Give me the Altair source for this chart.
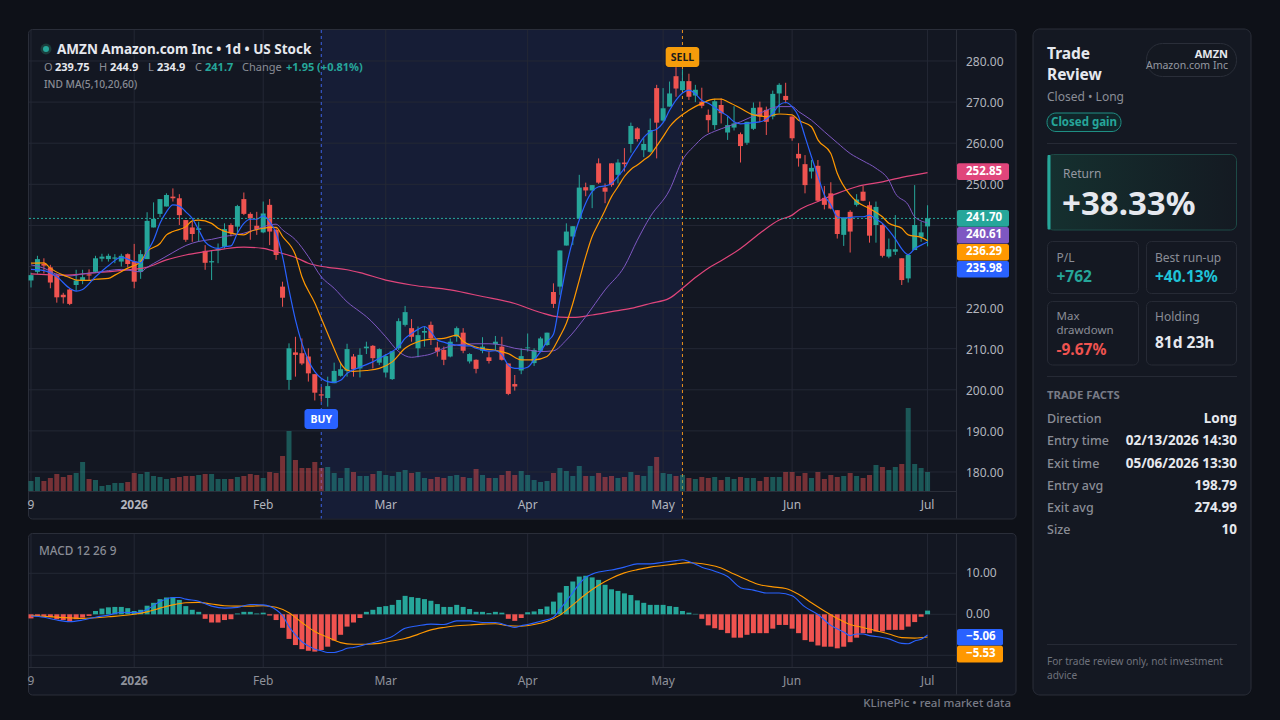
import altair as alt
import pandas as pd

FONT = "Noto Sans"
BG = "#0e1118"
PANEL = "#131722"
HILITE = "#161d36"
GRID = "#242835"
AXLINE = "#2a2e39"
UP = "#26a69a"
DOWN = "#ef5350"
TXT = "#d1d4dc"
MUTED = "#8a8d96"

# ---------------- data ----------------
opens = [226.6,228.7,230.7,229.8,227.7,223.1,224.4,225.5,226.5,228.1,
         228.7,231.9,231.8,231.9,231.2,233.0,231.2,228.7,231.8,239.5,
         242.8,244.6,247.0,246.6,241.3,239.5,238.9,233.8,231.0,233.9,
         234.8,240.1,239.7,246.4,242.8,239.9,238.3,245.0,238.9,225.1,
         202.4,209.1,208.9,208.1,203.8,198.9,198.0,201.6,203.4,204.6,
         208.1,205.2,210.1,210.7,206.6,204.2,202.6,210.1,215.8,215.0,
         210.1,213.9,215.8,210.3,209.7,208.1,212.9,213.9,206.9,207.3,
         209.5,207.9,211.1,210.5,206.4,201.4,204.7,210.1,206.5,209.5,
         210.9,223.8,225.1,235.1,237.3,241.7,249.3,248.5,255.1,249.2,
         255.1,252.3,255.3,259.8,263.6,258.3,257.9,273.4,265.5,268.9,
         276.3,272.9,275.1,271.6,270.1,266.9,264.4,269.3,262.6,263.8,
         262.2,260.1,263.5,268.7,268.1,266.5,272.1,271.5,266.5,257.4,
         254.9,253.1,254.5,246.7,247.8,243.7,237.7,243.3,245.0,248.2,
         244.9,240.1,240.1,232.4,233.6,232.0,227.1,234.0,237.2,239.75]
highs = [228.5,232.6,232.0,230.4,228.3,223.6,224.7,229.2,229.2,229.3,
         232.6,233.1,233.1,233.0,233.1,233.2,235.5,234.0,243.2,245.6,
         246.4,247.8,249.0,247.6,241.3,240.9,240.9,235.2,233.8,235.6,
         240.5,240.5,245.0,248.0,243.2,243.3,245.8,246.4,239.3,226.3,
         211.3,212.9,212.5,210.1,203.8,200.7,203.2,206.6,206.8,211.2,
         208.7,210.1,211.7,210.9,210.1,208.7,209.4,217.4,220.4,217.2,
         215.4,215.4,216.6,211.7,210.5,212.5,215.4,215.0,208.9,207.4,
         212.8,209.3,213.1,212.9,206.4,203.6,210.1,213.7,210.1,212.9,
         213.9,225.9,233.9,240.5,239.8,252.3,250.4,249.8,256.3,250.2,
         255.1,256.1,258.8,265.0,263.9,261.2,266.0,274.2,273.4,275.0,
         278.5,278.0,276.9,274.2,273.5,268.2,270.8,270.9,266.5,269.0,
         262.6,265.2,269.9,270.1,268.9,272.8,274.6,274.7,266.5,260.0,
         257.1,255.9,255.9,249.6,250.5,243.7,241.9,243.7,247.6,249.6,
         245.8,245.8,240.5,236.8,242.5,232.0,232.8,249.8,240.9,244.9]
lows = [224.9,228.2,228.3,224.7,221.2,221.0,220.6,224.1,225.7,226.7,
        228.5,231.2,231.2,230.8,230.0,229.8,224.7,227.0,231.8,239.5,
        242.0,244.6,245.8,240.1,236.0,236.0,236.0,229.2,226.7,230.8,
        234.4,237.3,238.1,242.5,236.5,237.7,238.1,235.2,231.6,220.2,
        200.0,203.2,206.0,202.0,197.4,197.1,195.9,201.6,203.2,203.2,
        203.2,203.0,208.7,205.2,206.0,203.0,202.4,209.7,215.4,211.7,
        207.9,210.5,210.9,208.1,206.0,207.9,211.7,208.9,206.4,204.0,
        208.9,206.4,209.5,207.1,198.7,199.8,203.8,209.3,205.8,209.3,
        210.7,219.9,223.1,235.1,235.2,241.7,247.1,244.2,250.1,245.4,
        249.4,250.2,253.1,257.7,260.4,256.6,257.7,256.3,265.2,268.9,
        271.3,272.7,270.5,270.0,268.5,262.6,263.3,264.8,260.8,263.1,
        255.3,259.6,263.2,265.2,262.0,265.8,267.4,269.7,260.6,254.3,
        247.8,251.4,245.8,243.9,243.9,236.8,235.0,233.4,244.6,245.9,
        235.8,235.8,232.2,232.0,232.8,225.5,226.1,234.0,236.0,234.9]
closes = [227.9,231.8,230.2,226.1,222.5,222.5,220.9,226.6,227.4,227.8,
          232.0,232.4,232.6,232.2,232.6,230.6,226.3,233.0,241.1,241.6,
          246.4,247.4,246.6,242.5,236.5,237.9,239.3,230.9,231.3,234.3,
          239.1,238.1,244.7,242.8,241.7,239.1,242.9,238.5,232.8,222.4,
          210.1,208.5,206.4,204.0,199.3,198.6,200.9,204.6,205.0,209.9,
          205.0,208.5,210.5,207.7,209.9,208.2,209.4,216.7,218.9,212.9,
          213.3,214.3,212.5,209.3,207.3,211.7,215.0,209.5,208.7,205.1,
          210.5,207.0,211.7,207.3,199.0,200.8,208.2,210.3,209.7,212.5,
          213.9,220.9,233.9,238.5,239.8,249.2,248.5,249.8,250.4,248.2,
          249.8,255.3,254.9,264.2,261.0,259.8,263.2,265.0,268.5,272.1,
          273.3,275.1,271.3,273.0,269.1,265.6,270.2,267.3,264.4,264.8,
          259.3,265.2,268.6,266.5,265.2,272.0,274.2,270.5,261.2,256.3,
          249.8,254.0,246.0,245.0,244.1,237.9,241.9,238.5,246.3,246.0,
          237.5,244.5,232.6,234.2,234.2,226.7,232.8,240.1,238.3,241.7]
volumes = [20,28,20,26,34,28,32,36,58,24,
           22,10,12,16,16,18,36,34,38,30,
           28,24,26,28,30,30,32,34,34,24,
           24,24,28,30,34,32,26,38,36,70,
           120,62,46,46,58,46,48,36,26,46,
           38,30,30,34,40,32,30,38,42,36,
           38,26,24,28,26,30,32,28,26,44,
           32,26,26,32,40,32,40,32,22,18,
           20,36,46,40,30,50,30,30,36,28,
           30,26,28,38,32,30,50,68,36,34,
           30,32,26,24,28,26,28,22,28,24,
           28,26,26,20,28,28,28,38,38,30,
           36,26,38,24,32,28,30,36,30,26,
           32,52,48,42,48,54,166,54,46,38]
macd_hist = [-1.0,-0.4,-0.4,-0.7,-1.2,-1.4,-1.8,-1.2,-0.8,-0.4,
             0.8,1.4,1.7,1.8,1.8,1.5,0.8,1.1,2.1,2.8,
             3.7,4.1,4.1,3.5,2.0,1.1,0.6,-1.1,-2.0,-2.0,
             -1.4,-1.2,0.2,0.6,0.6,0.2,0.4,-0.3,-1.4,-3.3,
             -6.0,-7.5,-8.5,-8.9,-9.1,-8.7,-7.9,-6.4,-5.0,-3.0,
             -2.0,-0.9,0.6,1.1,1.8,2.0,2.3,3.5,4.5,4.2,
             4.0,3.7,3.3,2.5,1.8,1.8,2.3,1.8,1.3,0.6,
             0.6,0.3,0.6,0.4,-1.1,-1.6,-0.9,0.5,0.7,1.3,
             1.9,3.1,5.3,6.9,8.0,9.2,9.4,9.0,8.4,7.2,
             6.1,5.7,5.1,4.7,3.4,2.8,2.3,2.3,2.3,2.0,
             1.8,0.8,0.4,0.1,-1.1,-2.7,-3.4,-3.8,-4.6,-5.7,
             -5.7,-5.0,-4.6,-4.6,-4.6,-3.5,-2.6,-2.6,-3.5,-4.6,
             -6.3,-6.7,-7.6,-7.9,-7.9,-8.3,-7.9,-6.8,-5.7,-4.6,
             -4.6,-4.2,-4.2,-3.8,-3.8,-3.8,-3.0,-1.9,-0.6,0.9]

ma5_i = [0,2,4,6,7,8,10,12,14,16,17,18,19,20,21,22,23,24,25,26,27,28,29,30,31,32,33,34,35,36,37,38,39,40,
         41,42,43,44,45,46,47,48,49,51,53,55,56,57,58,59,60,61,62,63,64,65,66,67,68,69,70,71,72,73,74,75,76,
         77,78,79,80,81,82,83,84,85,86,87,88,89,90,91,92,93,94,95,96,97,98,99,100,101,102,103,104,105,106,
         107,108,109,110,111,112,113,114,115,116,117,118,119,120,121,122,123,124,125,126,127,128,129,130,131,
         132,133,134,135,136,137,138,139]
ma5_v = [229.3,229.0,227.5,224.7,224.0,224.4,227.5,230.2,232.2,231.2,230.9,233.6,236.4,240.5,243.3,245.0,244.7,
         243.3,241.7,238.9,236.0,234.8,234.4,234.8,235.0,238.1,240.5,241.5,241.5,242.3,240.9,238.1,232.4,224.3,
         217.0,211.3,207.2,204.4,202.8,202.0,201.8,202.3,204.0,205.5,206.8,208.5,209.3,210.5,212.5,213.7,214.7,
         215.4,214.1,212.1,211.6,211.1,210.9,210.7,210.7,210.1,209.7,209.4,209.5,208.5,206.0,205.2,205.2,
         205.5,207.3,209.3,211.7,213.5,221.9,230.0,236.4,241.3,245.4,248.2,249.4,249.6,250.2,251.9,253.9,256.7,
         259.1,261.4,262.8,263.4,265.0,268.0,270.5,272.2,272.9,272.0,270.4,269.7,268.7,267.6,266.6,265.2,264.7,
         264.8,265.0,265.2,265.8,267.3,269.3,269.9,268.9,266.5,261.6,256.7,252.0,247.4,245.0,242.1,241.8,241.9,
         242.1,242.1,242.5,241.5,240.5,238.8,236.7,234.3,232.9,234.3,235.2,235.98]
ma10_i = [0,2,3,5,6,7,9,10,12,13,15,17,18,20,21,22,24,25,26,28,29,31,33,34,36,37,38,39,41,42,44,45,47,48,49,50,
          52,54,56,58,60,62,64,66,67,70,72,74,76,78,80,82,83,84,85,86,87,88,89,90,91,92,93,94,95,96,97,98,99,100,
          102,104,106,107,108,110,112,114,116,118,119,121,122,124,125,127,128,130,132,133,135,136,138,139]
ma10_v = [230.8,230.9,229.6,227.9,227.3,226.7,226.6,226.9,227.1,227.9,229.6,231.2,233.6,235.6,237.7,238.5,239.7,
          241.1,241.3,240.5,239.3,238.1,237.7,238.5,239.3,239.5,239.5,237.3,232.8,227.5,221.1,217.4,210.0,206.5,
          204.8,204.5,204.7,205.2,206.8,210.1,211.7,212.3,212.5,213.3,211.8,210.0,209.6,208.8,207.3,207.3,208.1,
          213.0,216.2,221.0,226.7,232.4,237.3,240.5,243.7,247.0,249.4,251.9,253.6,254.7,255.9,257.1,259.3,261.6,
          264.0,265.7,268.0,269.7,270.7,270.7,270.1,268.5,266.9,266.5,267.1,266.9,265.6,264.0,260.8,257.5,252.7,
          247.4,245.8,244.1,242.1,240.5,239.3,237.7,237.1,236.29]
ma20_i = [0,2,4,6,8,10,12,14,17,18,20,22,24,26,28,30,33,35,37,38,39,41,43,45,47,49,51,52,55,57,59,60,62,64,66,
          69,71,73,75,77,79,81,83,86,89,92,94,96,99,101,103,104,106,107,110,113,116,118,119,121,123,125,127,129,
          131,133,134,136,137,139]
ma20_v = [230.4,229.6,228.1,227.7,228.2,228.5,229.0,229.3,228.7,229.8,231.6,233.4,235.1,236.1,236.6,237.3,238.1,
          239.1,240.1,240.3,238.9,236.5,232.4,227.5,224.7,221.4,219.0,217.8,212.9,209.3,207.9,208.1,208.7,210.1,
          210.9,211.2,211.2,210.9,210.1,209.7,209.3,209.5,212.1,217.8,224.3,230.0,236.4,242.1,248.6,255.9,259.6,
          261.2,262.9,263.5,265.2,267.3,268.9,268.9,267.7,265.6,262.8,260.1,257.5,255.7,253.9,251.0,247.8,245.0,
          242.1,240.61]
ma60_i = [0,5,10,15,18,21,24,27,30,33,36,38,41,43,46,49,51,55,59,65,70,75,79,82,84,87,90,93,96,99,101,103,105,
          107,110,113,116,118,119,122,125,128,132,135,139]
ma60_v = [228.2,227.9,228.5,229.2,229.8,231.6,232.8,233.6,234.3,234.7,234.4,233.6,232.2,230.8,229.8,229.2,228.5,
          226.7,225.5,224.3,222.7,221.0,218.8,217.7,217.6,218.2,219.0,219.8,221.0,222.3,224.7,227.3,229.6,231.4,
          234.4,238.1,241.3,242.5,243.7,245.8,247.8,249.4,250.6,251.7,252.85]
dif_i = [0,2,4,6,8,10,12,14,16,18,20,22,23,24,26,28,30,32,34,36,38,39,40,41,42,43,44,45,46,47,48,49,50,52,54,
         56,58,60,62,64,66,68,70,72,74,75,76,77,79,81,82,83,84,85,86,87,88,90,92,94,96,98,100,101,102,104,106,
         108,110,112,114,116,118,120,122,124,126,127,128,129,130,131,133,135,136,137,138,139]
dif_v = [-0.4,-0.7,-1.4,-1.8,-1.4,-0.7,-0.2,0.5,0.4,1.2,3.1,4.1,4.1,3.7,3.2,2.0,1.5,1.7,2.4,2.3,1.1,-0.3,-3.0,
         -5.0,-6.7,-7.7,-8.5,-8.9,-9.3,-9.3,-8.9,-8.3,-8.1,-7.3,-6.5,-5.4,-3.4,-2.8,-2.4,-2.5,-1.6,-1.6,-2.0,
         -2.0,-2.8,-3.2,-2.8,-2.5,-1.7,-0.7,1.2,3.2,5.3,7.4,9.0,9.8,10.3,10.8,11.5,12.3,12.3,12.7,13.1,13.3,
         12.9,11.5,10.5,9.2,6.5,5.9,5.2,5.2,4.5,1.8,-0.05,-2.7,-4.3,-5.2,-4.8,-4.8,-5.2,-5.4,-6.0,-7.1,-7.2,
         -6.5,-6.1,-5.06]
dea_i = [0,4,8,12,16,18,20,22,24,26,28,30,32,34,36,38,40,42,44,46,48,50,52,54,56,58,60,62,64,66,68,70,72,74,
         76,78,80,82,84,86,88,90,92,94,96,98,100,102,103,105,107,109,111,113,115,117,119,121,123,125,127,129,
         131,133,135,137,139]
dea_v = [-0.3,-0.7,-1.0,-0.6,0.0,0.6,1.5,2.3,2.8,2.9,2.5,2.1,2.0,2.0,2.1,1.7,0.4,-2.0,-4.2,-5.6,-6.9,-7.3,
         -7.3,-7.1,-6.5,-5.9,-4.9,-3.8,-3.2,-2.8,-2.6,-2.4,-2.3,-2.8,-2.9,-2.5,-1.7,-0.2,2.3,4.9,7.1,8.8,10.1,
         10.9,11.5,11.9,12.3,12.6,12.5,12.1,11.3,9.8,8.4,7.2,6.7,6.3,4.9,2.8,0.8,-1.0,-2.5,-3.2,-4.0,-4.8,-5.7,
         -5.8,-5.53]

price_ticks = [180, 190, 200, 210, 220, 230, 240, 250, 260, 270, 280]
price_tick_labels_hidden = [230, 240]   # covered by the price tags in the reference
macd_ticks = [-10, 0, 10]
xtick_idx = [0, 16, 36, 55, 77, 98, 118, 139]
xtick_lab = ["9", "2026", "Feb", "Mar", "Apr", "May", "Jun", "Jul"]
trade_idx = [45, 101]
trade_lab = ["BUY", "SELL"]
last_price = 241.70
ma_last = [252.85, 240.61, 236.29, 235.98]
macd_last = [-5.06, -5.53]

# ---------------- frames ----------------
n = len(closes)
cdf = pd.DataFrame({"i": list(range(n)), "o": opens, "h": highs, "l": lows, "c": closes, "vol": volumes})
cdf["dir"] = ["up" if c >= o else "down" for o, c in zip(opens, closes)]
hdf = pd.DataFrame({"i": list(range(n)), "m": macd_hist})
hdf["dir"] = ["up" if v >= 0 else "down" for v in macd_hist]

XS = alt.Scale(domain=[-4.806, 193.64], nice=False, zero=False, padding=0)
PS = alt.Scale(domain=[119.66, 294.84], nice=False, zero=False, padding=0)
VS = alt.Scale(domain=[-458, 982], nice=False, zero=False, padding=0)
MS = alt.Scale(domain=[-25.78, 149.83], nice=False, zero=False, padding=0)
DIRC = alt.Color("dir:N", scale=alt.Scale(domain=["up", "down"], range=[UP, DOWN]), legend=None)

def X(f="i"):
    return alt.X(f + ":Q", scale=XS, axis=None)

ONE = pd.DataFrame({"k": [0]})

def T(s, x, y, size=12, color=TXT, weight="normal", align="left"):
    return alt.Chart(ONE).mark_text(text=s, align=align, baseline="middle", fontSize=size,
                                    fontWeight=weight, color=color, font=FONT).encode(
        x=alt.value(x), y=alt.value(y))

def R(x1, y1, x2, y2, fill, stroke=None, r=0, sw=1):
    kw = dict(fill=fill, cornerRadius=r)
    if stroke:
        kw.update(stroke=stroke, strokeWidth=sw)
    return alt.Chart(ONE).mark_rect(**kw).encode(
        x=alt.value(x1), x2=alt.value(x2), y=alt.value(y1), y2=alt.value(y2))

layers = []
# panels
layers.append(R(28.5, 29.5, 1016, 519, PANEL, "#2a2e39", r=4))
layers.append(R(28.5, 533.5, 1016, 695, PANEL, "#2a2e39", r=4))
layers.append(R(1033, 29, 1251, 695, "#141822", "#2a2e39", r=7))

# trade window highlight
tw = pd.DataFrame({"a": [trade_idx[0]], "b": [trade_idx[1]]})
layers.append(alt.Chart(tw).mark_rect(fill=HILITE).encode(
    x=X("a"), x2="b:Q", y=alt.value(30), y2=alt.value(518.5)))

# grids
pt = pd.DataFrame({"p": price_ticks})
layers.append(alt.Chart(pt).mark_rule(color=GRID, strokeWidth=1).encode(
    y=alt.Y("p:Q", scale=PS, axis=None), x=alt.value(29), x2=alt.value(957)))
mt = pd.DataFrame({"p": macd_ticks})
layers.append(alt.Chart(mt).mark_rule(color=GRID, strokeWidth=1).encode(
    y=alt.Y("p:Q", scale=MS, axis=None), x=alt.value(29), x2=alt.value(957)))
xt = pd.DataFrame({"i": xtick_idx, "lab": xtick_lab})
layers.append(alt.Chart(xt).mark_rule(color=GRID, strokeWidth=1).encode(
    x=X(), y=alt.value(30), y2=alt.value(491)))
layers.append(alt.Chart(xt).mark_rule(color=GRID, strokeWidth=1).encode(
    x=X(), y=alt.value(534), y2=alt.value(667)))
# axis lines
layers.append(R(29, 491, 957, 492, AXLINE))
layers.append(R(956, 30, 957, 518.5, AXLINE))
layers.append(R(29, 667, 957, 668, AXLINE))
layers.append(R(956, 534, 957, 694.5, AXLINE))

# trade lines
td = pd.DataFrame({"i": trade_idx, "lab": trade_lab})
layers.append(alt.Chart(td).transform_filter("datum.lab == 'BUY'").mark_rule(
    color="#3d63e6", strokeDash=[3, 3], strokeWidth=1).encode(x=X(), y=alt.value(30), y2=alt.value(518.5)))
layers.append(alt.Chart(td).transform_filter("datum.lab == 'SELL'").mark_rule(
    color="#e8911c", strokeDash=[3, 3], strokeWidth=1).encode(x=X(), y=alt.value(30), y2=alt.value(518.5)))

# volume
layers.append(alt.Chart(cdf).mark_bar(size=5, opacity=0.45).encode(
    x=X(), y=alt.Y("vol:Q", scale=VS, axis=None), y2=alt.datum(0), color=DIRC))

# candles
layers.append(alt.Chart(cdf).mark_rule(strokeWidth=1).encode(
    x=X(), y=alt.Y("l:Q", scale=PS, axis=None), y2="h:Q", color=DIRC))
layers.append(alt.Chart(cdf).mark_bar(size=5).encode(
    x=X(), y=alt.Y("o:Q", scale=PS, axis=None), y2="c:Q", color=DIRC))

# moving averages
def line(idx, vals, color, scale, w=1.2):
    d = pd.DataFrame({"i": idx, "v": vals})
    return alt.Chart(d).mark_line(color=color, strokeWidth=w, interpolate="monotone").encode(
        x=X(), y=alt.Y("v:Q", scale=scale, axis=None))

C_MA5, C_MA10, C_MA20, C_MA60 = "#2962ff", "#ff9800", "#7e57c2", "#e0457b"
layers.append(line(ma60_i, ma60_v, C_MA60, PS))
layers.append(line(ma20_i, ma20_v, C_MA20, PS, 1.0))
layers.append(line(ma10_i, ma10_v, C_MA10, PS))
layers.append(line(ma5_i, ma5_v, C_MA5, PS))

# last price dotted line
lp = pd.DataFrame({"p": [last_price]})
layers.append(alt.Chart(lp).mark_rule(color=UP, strokeDash=[2, 2], strokeWidth=1).encode(
    y=alt.Y("p:Q", scale=PS, axis=None), x=alt.value(29), x2=alt.value(957)))

# MACD
layers.append(alt.Chart(hdf).mark_bar(size=5).encode(
    x=X(), y=alt.Y("m:Q", scale=MS, axis=None), y2=alt.datum(0), color=DIRC))
layers.append(line(dea_i, dea_v, "#ff9800", MS, 1.1))
layers.append(line(dif_i, dif_v, "#2962ff", MS, 1.1))

# axis labels
ptl = pd.DataFrame({"p": [p for p in price_ticks if p not in price_tick_labels_hidden]})
layers.append(alt.Chart(ptl).mark_text(align="left", baseline="middle", fontSize=12, color="#b2b5be",
                                       font=FONT, dy=1).encode(
    y=alt.Y("p:Q", scale=PS, axis=None), x=alt.value(966), text=alt.Text("p:Q", format=".2f")))
mtl = pd.DataFrame({"p": [p for p in macd_ticks if p >= 0]})
layers.append(alt.Chart(mtl).mark_text(align="left", baseline="middle", fontSize=12, color="#b2b5be",
                                       font=FONT).encode(
    y=alt.Y("p:Q", scale=MS, axis=None), x=alt.value(966), text=alt.Text("p:Q", format=".2f")))
for ypos, col in [(505, "#b2b5be"), (681, "#8f929b")]:
    layers.append(alt.Chart(xt).transform_filter("datum.lab != '2026'").mark_text(
        align="center", baseline="middle", fontSize=12, color=col, font=FONT).encode(
        x=X(), y=alt.value(ypos), text="lab:N"))
    layers.append(alt.Chart(xt).transform_filter("datum.lab == '2026'").mark_text(
        align="center", baseline="middle", fontSize=12, fontWeight="bold", color=col, font=FONT).encode(
        x=X(), y=alt.value(ypos), text="lab:N"))

# price tags
def tag(val, color, off, scale, x1, x2, label):
    d = pd.DataFrame({"p": [val]})
    r = alt.Chart(d).mark_rect(fill=color, yOffset=off - 8.3, y2Offset=off + 8.3, cornerRadius=2).encode(
        y=alt.Y("p:Q", scale=scale, axis=None), y2="p:Q", x=alt.value(x1), x2=alt.value(x2))
    t = alt.Chart(d).mark_text(text=label, align="left", baseline="middle", fontSize=11.5, fontWeight="bold",
                               color="#ffffff", font=FONT, dy=off).encode(
        y=alt.Y("p:Q", scale=scale, axis=None), x=alt.value(x1 + 9))
    return [r, t]

layers += tag(ma_last[0], C_MA60, -1.0, PS, 957, 1009, f"{ma_last[0]:.2f}")
layers += tag(last_price, UP, 0, PS, 957, 1009, f"{last_price:.2f}")
layers += tag(ma_last[1], C_MA20, 12.3, PS, 957, 1009, f"{ma_last[1]:.2f}")
layers += tag(ma_last[2], C_MA10, 11.6, PS, 957, 1009, f"{ma_last[2]:.2f}")
layers += tag(ma_last[3], C_MA5, 27.4, PS, 957, 1009, f"{ma_last[3]:.2f}")
layers += tag(macd_last[0], "#2962ff", 2.2, MS, 957, 1003, "\u2212" + f"{abs(macd_last[0]):.2f}")
layers += tag(macd_last[1], "#ff9800", 17.1, MS, 957, 1003, "\u2212" + f"{abs(macd_last[1]):.2f}")

# BUY / SELL markers
mk = td.copy()
mk["a"] = mk["i"] - 2.6
mk["b"] = mk["i"] + 2.6
layers.append(alt.Chart(mk).transform_filter("datum.lab == 'BUY'").mark_rect(
    fill="#2962ff", cornerRadius=3).encode(x=X("a"), x2="b:Q", y=alt.value(409), y2=alt.value(429)))
layers.append(alt.Chart(mk).transform_filter("datum.lab == 'BUY'").mark_text(
    fontSize=10.5, fontWeight="bold", color="#ffffff", font=FONT, baseline="middle").encode(
    x=X(), y=alt.value(419.5), text="lab:N"))
layers.append(alt.Chart(mk).transform_filter("datum.lab == 'SELL'").mark_rect(
    fill="#f59c0b", cornerRadius=3).encode(x=X("a"), x2="b:Q", y=alt.value(47), y2=alt.value(67)))
layers.append(alt.Chart(mk).transform_filter("datum.lab == 'SELL'").mark_text(
    fontSize=10.5, fontWeight="bold", color="#1b1b1b", font=FONT, baseline="middle").encode(
    x=X(), y=alt.value(57.5), text="lab:N"))

# header
layers.append(alt.Chart(ONE).mark_circle(size=120, color="#1b3d3c", opacity=1).encode(
    x=alt.value(46), y=alt.value(49)))
layers.append(alt.Chart(ONE).mark_circle(size=36, color=UP, opacity=1).encode(
    x=alt.value(46), y=alt.value(49)))
layers.append(T("AMZN Amazon.com Inc  \u2022  1d  \u2022  US Stock", 57, 49.5, 13.5, "#e6e8ee", "bold"))
hy = 68
for s, x, col, w in [("O", 44, MUTED, "normal"), ("239.75", 55, "#e6e8ee", "bold"),
                     ("H", 99, MUTED, "normal"), ("244.9", 110, "#e6e8ee", "bold"),
                     ("L", 148, MUTED, "normal"), ("234.9", 157, "#e6e8ee", "bold"),
                     ("C", 195, MUTED, "normal"), ("241.7", 205, UP, "bold"),
                     ("Change", 242, MUTED, "normal"), ("+1.95 (+0.81%)", 286, UP, "bold")]:
    layers.append(T(s, x, hy, 11, col, w))
layers.append(T("IND MA(5,10,20,60)", 44, 85, 10.2, MUTED, 500))
layers.append(T("MACD 12 26 9", 39, 551, 11.8, MUTED, 500))
layers.append(T("KLinePic  \u2022  real market data", 1011, 704, 11.5, "#787b86", 500, "right"))

# right panel
WHITE = "#e6e8ee"
layers.append(T("Trade", 1047, 54, 15.5, WHITE, "bold"))
layers.append(T("Review", 1047, 75, 15.5, WHITE, "bold"))
layers.append(T("Closed  \u2022  Long", 1047, 97, 12, MUTED))
layers.append(R(1047, 113, 1121, 131.5, "#10262a", "#1f8f84", r=9))
layers.append(T("Closed gain", 1084, 122.5, 11.5, UP, "bold", "center"))
layers.append(R(1146.5, 43.5, 1236.5, 76.5, "#141821", "#2a2e39", r=16))
layers.append(T("AMZN", 1228, 54.5, 11, WHITE, "bold", "right"))
layers.append(T("Amazon.com Inc", 1228, 66, 10.5, "#9598a1", "normal", "right"))
layers.append(R(1047, 143, 1237, 144, "#262a35"))

grad = alt.Gradient(gradient="linear", x1=0, x2=1, y1=0, y2=0,
                    stops=[alt.GradientStop(color="#15302f", offset=0),
                           alt.GradientStop(color="#141a22", offset=1)])
layers.append(alt.Chart(ONE).mark_rect(fill=grad, stroke="#1d4a46", strokeWidth=1, cornerRadius=6).encode(
    x=alt.value(1047.5), x2=alt.value(1236.5), y=alt.value(154.5), y2=alt.value(230)))
layers.append(R(1047.5, 155, 1050.5, 229.5, UP, r=1))
layers.append(T("Return", 1063, 173.5, 12, "#9598a1"))
layers.append(T("+38.33%", 1062, 205, 33, WHITE, "bold"))

for (x1, x2) in [(1047.5, 1138.5), (1146.5, 1236.5)]:
    layers.append(R(x1, 241.5, x2, 293.5, "#141822", "#262a35", r=5))
    layers.append(R(x1, 301.5, x2, 365, "#141822", "#262a35", r=5))
layers.append(T("P/L", 1056.5, 257.5, 12, "#8a8d96"))
layers.append(T("+762", 1056.5, 276.5, 15.5, UP, "bold"))
layers.append(T("Best run-up", 1155, 257.5, 12, "#8a8d96"))
layers.append(T("+40.13%", 1155, 276.5, 15.5, "#1fc3d8", "bold"))
layers.append(T("Max", 1056.5, 316.5, 11.5, "#8a8d96"))
layers.append(T("drawdown", 1056.5, 330.5, 11.5, "#8a8d96"))
layers.append(T("-9.67%", 1056.5, 349.5, 15.5, DOWN, "bold"))
layers.append(T("Holding", 1155, 317, 12, "#8a8d96"))
layers.append(T("81d 23h", 1155, 343, 15.5, WHITE, "bold"))
layers.append(R(1047, 376, 1237, 377, "#262a35"))
layers.append(T("TRADE FACTS", 1047, 395.5, 11.3, "#787b86", "bold"))
for lab, val, yy in [("Direction", "Long", 418.5), ("Entry time", "02/13/2026 14:30", 441),
                     ("Exit time", "05/06/2026 13:30", 463.5), ("Entry avg", "198.79", 485.5),
                     ("Exit avg", "274.99", 507.5), ("Size", "10", 530)]:
    layers.append(T(lab, 1047, yy, 12.5, "#8a8d96", 500))
    layers.append(T(val, 1237, yy, 13.5, WHITE, "bold", "right"))
layers.append(R(1047, 644, 1237, 645, "#262a35"))
layers.append(T("For trade review only, not investment", 1047, 662, 10.1, "#6f727c"))
layers.append(T("advice", 1047, 676, 10.1, "#6f727c"))

chart = alt.layer(*layers).properties(
    width=1280, height=720, background=BG, padding=0,
    autosize=alt.AutoSizeParams(type="none")
).resolve_scale(y="independent").configure_view(stroke=None)

chart.save("out.html", embed_options={"renderer": "svg", "actions": False})
